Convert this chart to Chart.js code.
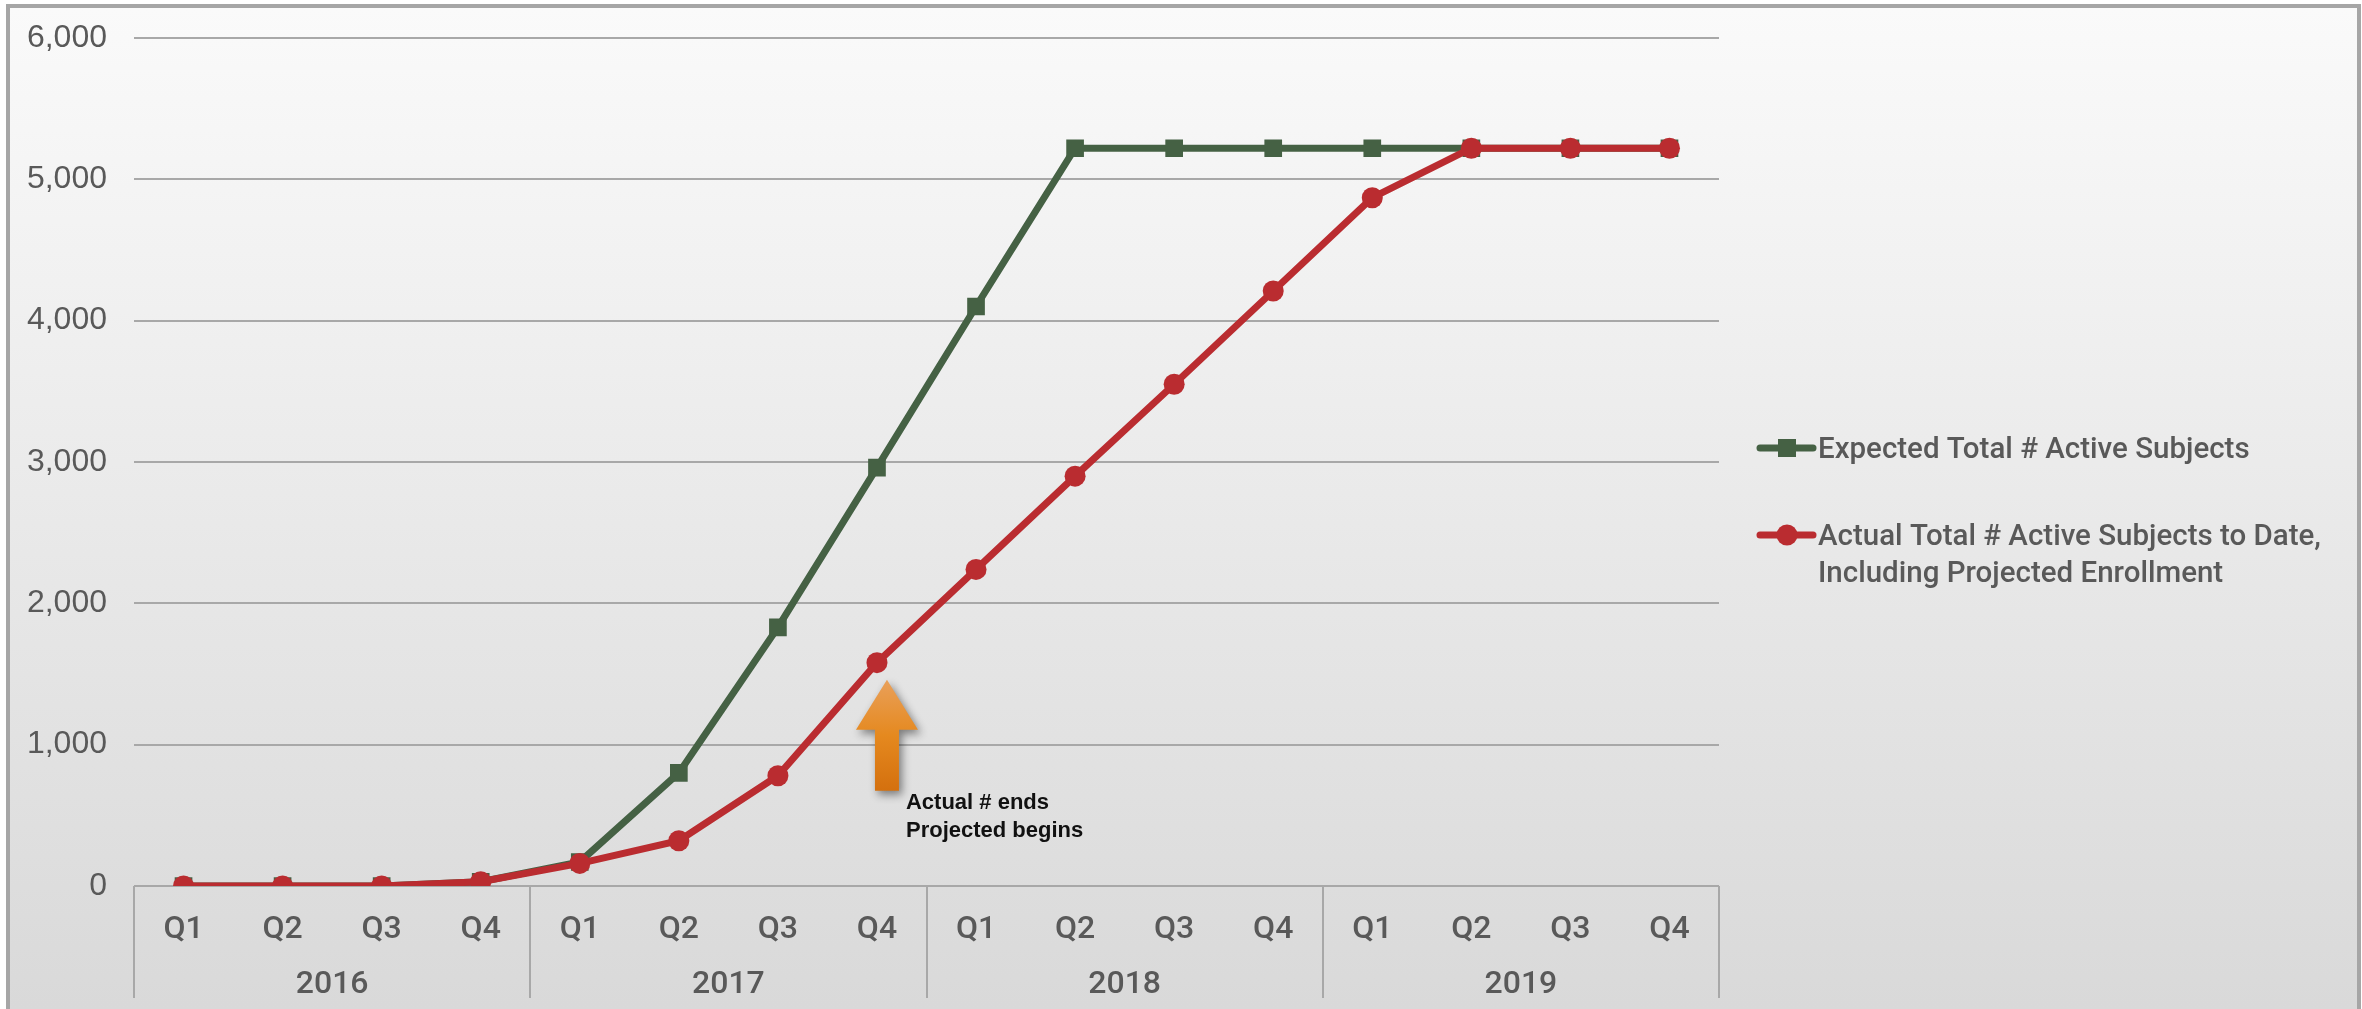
<!DOCTYPE html>
<html lang="en">
<head>
  <meta charset="UTF-8">
  <title>Total Active Subjects</title>
  <script src="https://cdn.jsdelivr.net/npm/chart.js"></script>
  <style>
    html, body { margin: 0; padding: 0; background: #fff; overflow: hidden; }
    body { width: 2362px; height: 1009px; position: relative; }
    .frame {
      position: absolute; left: 6px; top: 4px; width: 2347px; height: 1100px;
      border: 4px solid #A6A6A6;
      background: linear-gradient(to bottom, #FAFAFA 0px, #D9D9D9 1000px, #D8D8D8 1100px);
    }
    #chart { position: absolute; left: 0; top: 0; }
  </style>
</head>
<body>
  <div class="frame"></div>
  <canvas id="chart" width="2362" height="1009"></canvas>

  <script>
    // data
    const quarters = ['Q1','Q2','Q3','Q4','Q1','Q2','Q3','Q4','Q1','Q2','Q3','Q4','Q1','Q2','Q3','Q4'];
    const years = ['2016', '2017', '2018', '2019'];
    const expected = [0, 0, 0, 30, 170, 800, 1830, 2960, 4100, 5220, 5220, 5220, 5220, 5220, 5220, 5220];
    const actual   = [0, 0, 0, 30, 160, 320, 780, 1580, 2240, 2900, 3550, 4210, 4870, 5220, 5220, 5220];
    const yTicks = [0, 1000, 2000, 3000, 4000, 5000, 6000];
    const legendLines = [
      ['Expected Total # Active Subjects'],
      ['Actual Total # Active Subjects to Date,', 'Including Projected Enrollment']
    ];
    const noteIndex = 7;   // Q4 2017
    const noteLines = ['Actual # ends', 'Projected begins'];

    const GREEN = '#456144';
    const RED = '#BA2C30';
    const TEXT = '#595959';
    const GRID = '#A8A8A8';
    const FONT = "Roboto, 'Liberation Sans', sans-serif";

    // year groups, dividers, legend, arrow note
    const decor = {
      id: 'decor',
      afterDraw(chart) {
        const { ctx, chartArea: a, scales: { x, y } } = chart;
        const step = (a.right - a.left) / quarters.length;
        ctx.save();

        ctx.strokeStyle = GRID;
        ctx.lineWidth = 2;
        for (let i = 0; i <= years.length; i++) {
          const px = Math.round(a.left + i * 4 * step);
          ctx.beginPath();
          ctx.moveTo(px, a.bottom);
          ctx.lineTo(px, 998);
          ctx.stroke();
        }

        ctx.fillStyle = TEXT;
        ctx.font = '500 32px ' + FONT;
        ctx.textAlign = 'center';
        ctx.textBaseline = 'alphabetic';
        years.forEach((yr, i) => {
          const cx = (x.getPixelForValue(i * 4) + x.getPixelForValue(i * 4 + 3)) / 2;
          ctx.fillText(yr, cx, 993);
        });

        // legend
        const lx = a.right + 38;
        const rows = [448, 535];
        const colors = [GREEN, RED];
        ctx.textAlign = 'left';
        ctx.font = '500 29.5px ' + FONT;
        legendLines.forEach((lines, i) => {
          const ly = rows[i];
          ctx.strokeStyle = colors[i];
          ctx.lineWidth = 7;
          ctx.lineCap = 'round';
          ctx.beginPath();
          ctx.moveTo(lx + 3, ly);
          ctx.lineTo(lx + 56, ly);
          ctx.stroke();
          ctx.fillStyle = colors[i];
          ctx.beginPath();
          if (i === 0) {
            ctx.rect(lx + 21, ly - 9, 18, 18);
          } else {
            ctx.arc(lx + 30, ly, 10.5, 0, Math.PI * 2);
          }
          ctx.fill();
          ctx.fillStyle = TEXT;
          lines.forEach((t, j) => ctx.fillText(t, lx + 61, ly + 10 + j * 37));
        });

        // arrow pointing at the last actual point
        const tipX = x.getPixelForValue(noteIndex) + 10;
        const tipY = y.getPixelForValue(actual[noteIndex]) + 17;
        const grad = ctx.createLinearGradient(0, tipY, 0, tipY + 111);
        grad.addColorStop(0, '#E9A05A');
        grad.addColorStop(0.5, '#E5891F');
        grad.addColorStop(1, '#D4700E');
        ctx.save();
        ctx.shadowColor = 'rgba(0,0,0,0.45)';
        ctx.shadowBlur = 8;
        ctx.shadowOffsetX = 3;
        ctx.shadowOffsetY = 4;
        ctx.fillStyle = grad;
        ctx.beginPath();
        ctx.moveTo(tipX, tipY);
        ctx.lineTo(tipX + 31, tipY + 50);
        ctx.lineTo(tipX + 12, tipY + 50);
        ctx.lineTo(tipX + 12, tipY + 111);
        ctx.lineTo(tipX - 12, tipY + 111);
        ctx.lineTo(tipX - 12, tipY + 50);
        ctx.lineTo(tipX - 31, tipY + 50);
        ctx.closePath();
        ctx.fill();
        ctx.restore();

        ctx.fillStyle = '#111';
        ctx.font = "bold 22px 'Liberation Sans', Arial, sans-serif";
        ctx.textBaseline = 'alphabetic';
        noteLines.forEach((t, j) => ctx.fillText(t, tipX + 19, tipY + 129 + j * 28));

        ctx.restore();
      }
    };

    new Chart(document.getElementById('chart'), {
      type: 'line',
      data: {
        labels: quarters,
        datasets: [{
          label: legendLines[0].join(' '),
          data: expected,
          borderColor: GREEN,
          backgroundColor: GREEN,
          borderWidth: 7,
          pointStyle: 'rect',
          pointRadius: 12.5,
          pointBorderWidth: 0,
          tension: 0,
          order: 1
        }, {
          label: legendLines[1].join(' '),
          data: actual,
          borderColor: RED,
          backgroundColor: RED,
          borderWidth: 7,
          pointStyle: 'circle',
          pointRadius: 10.5,
          pointBorderWidth: 0,
          tension: 0,
          order: 0
        }]
      },
      options: {
        responsive: false,
        animation: false,
        layout: { padding: { left: 0, top: 38, right: 643, bottom: 0 } },
        plugins: {
          legend: { display: false },
          tooltip: { enabled: false }
        },
        scales: {
          x: {
            offset: true,
            grid: { display: false, drawTicks: false },
            border: { display: false },
            ticks: {
              color: TEXT,
              font: { family: FONT, size: 32, weight: 500 },
              padding: 25,
              maxRotation: 0,
              autoSkip: false
            },
            afterFit(scale) {
              scale.height = 123;
              scale.paddingLeft = 0;
              scale.paddingRight = 0;
            }
          },
          y: {
            min: yTicks[0],
            max: yTicks[yTicks.length - 1],
            grid: { color: GRID, lineWidth: 2, drawTicks: false },
            border: { display: false },
            ticks: {
              stepSize: yTicks[1] - yTicks[0],
              color: TEXT,
              font: { family: "'Liberation Sans', Arial, sans-serif", size: 32 },
              padding: 27,
              callback: v => v.toLocaleString('en-US')
            },
            afterFit(scale) {
              scale.width = 134;
              scale.paddingTop = 0;
              scale.paddingBottom = 0;
            }
          }
        }
      },
      plugins: [decor]
    });
  </script>
</body>
</html>
